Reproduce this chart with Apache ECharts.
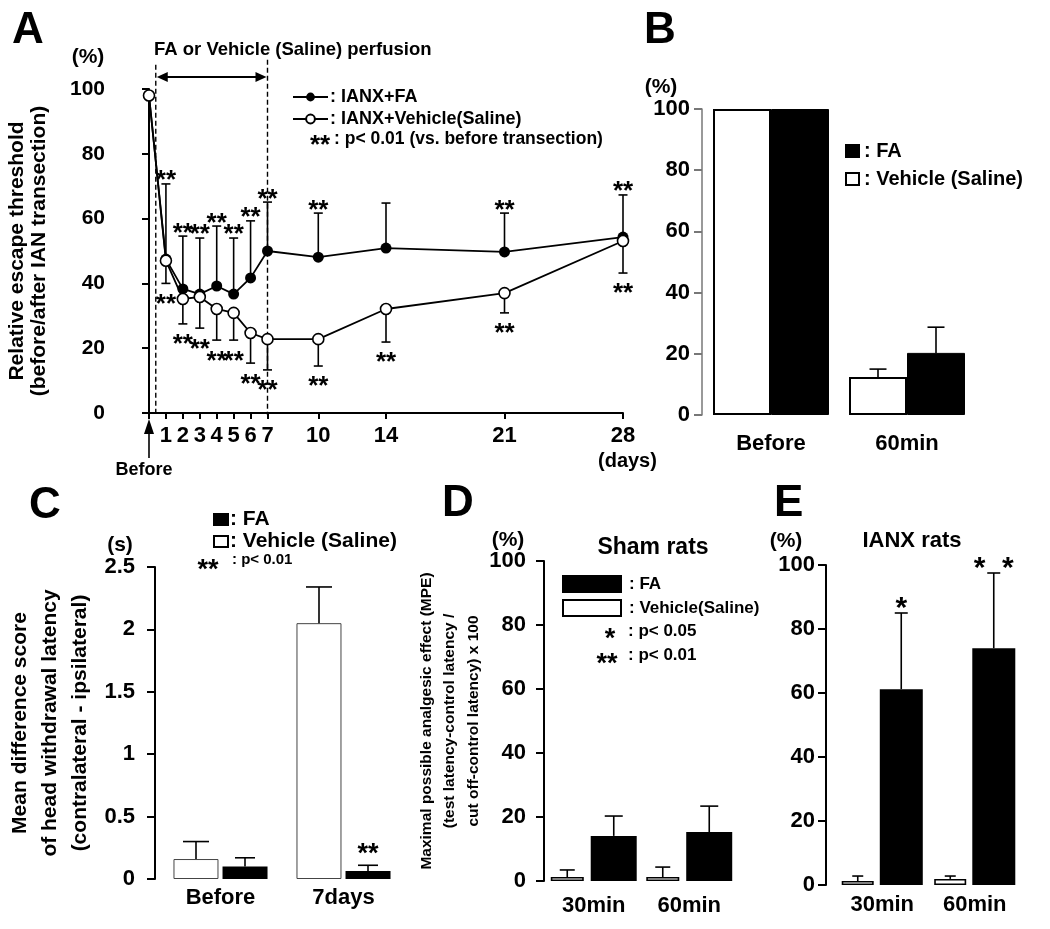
<!DOCTYPE html>
<html><head><meta charset="utf-8">
<script src="https://cdn.jsdelivr.net/npm/echarts@6/dist/echarts.min.js"></script>
<style>html,body{margin:0;padding:0;background:#fff}#c{width:1050px;height:929px}</style>
</head><body><div id="c"></div>
<script>
// ---------- Panel A data ----------
const daysA = [0, 1, 2, 3, 4, 5, 6, 7, 10, 14, 21, 28];
const dayTicksA = [0, 1, 2, 3, 4, 5, 6, 7, 10, 14, 21, 28];
const dayLabelsA = [1, 2, 3, 4, 5, 6, 7, 10, 14, 21, 28];
const faMeanA = [98, 47.5, 38.3, 36.7, 39.2, 36.7, 41.7, 50, 48.1, 50.9, 49.7, 54.3];
const faErrA = [0, 23.2, 16.3, 17.3, 18.5, 17.3, 17.6, 15.1, 13.6, 13.9, 12, 13];
const vehMeanA = [98, 47, 35.2, 35.8, 32.1, 30.9, 24.7, 22.8, 22.8, 32.1, 37, 53.1];
const vehErrA = [0, 7, 7.7, 9.6, 9.6, 8.4, 9.3, 9.5, 8.3, 10.2, 6.1, 9.9];
const faSigA = ['', '**', '**', '**', '**', '**', '**', '**', '**', '', '**', '**'];
const vehSigA = ['', '**', '**', '**', '**', '**', '**', '**', '**', '**', '**', '**'];
const perfusionWindow = [0.4, 7];

// ---------- Panel B data ----------
const catsB = ['Before', '60min'];
const vehB = [100, 12.4];
const vehErrB = [0, 2.6];
const faB = [100, 20.3];
const faErrB = [0, 8.4];

// ---------- Panel C data ----------
const catsC = ['Before', '7days'];
const vehC = [0.16, 2.05];
const vehErrC = [0.14, 0.29];
const faC = [0.1, 0.065];
const faErrC = [0.07, 0.045];
const faSigC = ['', '**'];

// ---------- Panel D data ----------
const catsD = ['30min', '60min'];
const vehD = [1.25, 1.25];
const vehErrD = [2.2, 3.1];
const faD = [14.1, 15.3];
const faErrD = [6.2, 8.1];

// ---------- Panel E data ----------
const catsE = ['30min', '60min'];
const vehE = [1.25, 1.9];
const vehErrE = [1.55, 0.9];
const faE = [61.2, 74];
const faErrE = [23.8, 23.5];
const faSigE = ['*', '*  *'];

const FF = '"Liberation Sans", Arial, Helvetica, sans-serif';

function txtStyle(text, size, align, weight) {
  return {text: text, fill: '#000', fontSize: size, fontWeight: weight || 'bold', fontFamily: FF,
    align: align || 'left', verticalAlign: 'middle', textAlign: align || 'left', textVerticalAlign: 'middle'};
}
function T(text, x, y, size, align, weight) {
  return {type: 'text', x: x, y: y, z: 50, silent: true, style: txtStyle(text, size, align, weight)};
}
function star(s, x, yc, fs) {
  return {type: 'text', x: x, y: yc + 0.28 * fs, z: 50, silent: true, style: txtStyle(s, fs, 'center')};
}

function errSeries(o) {
  return {
    type: 'custom', xAxisIndex: o.xi, yAxisIndex: o.yi, silent: true, clip: false, z: o.z || 5,
    data: o.means.map((m, i) => [o.xs[i], m, o.errs[i]]),
    renderItem: function (params, api) {
      const i = params.dataIndex;
      const x = api.value(0), m = api.value(1), e = api.value(2);
      const p0 = api.coord([x, m]);
      const p1 = api.coord([x, m + o.dir * e]);
      const cx = p0[0] + (o.off || 0);
      const ch = [];
      if (e > 0) {
        ch.push({type: 'line', shape: {x1: cx, y1: p0[1], x2: cx, y2: p1[1]}, style: {stroke: '#000', lineWidth: o.lw || 1.6}});
        ch.push({type: 'line', shape: {x1: cx - o.cap / 2, y1: p1[1], x2: cx + o.cap / 2, y2: p1[1]}, style: {stroke: '#000', lineWidth: o.lw || 1.6}});
      }
      const s = o.sig ? o.sig[i] : '';
      if (s) ch.push(star(s, cx, p1[1] - o.dir * o.sigGap, o.sigFs));
      return {type: 'group', children: ch};
    }
  };
}

const axisLblY = (size, margin) => ({fontSize: size, fontWeight: 'bold', color: '#000', fontFamily: FF, margin: margin});
const catAxis = (gi, data, margin) => ({
  gridIndex: gi, type: 'category', data: data,
  axisLine: {show: false}, axisTick: {show: false}, splitLine: {show: false},
  axisLabel: {fontSize: 22, fontWeight: 'bold', color: '#000', fontFamily: FF, margin: margin}
});
const valAxis = (gi, min, max, interval, offset, color, lblSize, lblMargin, extra) => Object.assign({
  gridIndex: gi, type: 'value', min: min, max: max, interval: interval, offset: offset,
  axisLine: {show: true, lineStyle: {color: color, width: 2}},
  axisTick: {show: true, length: 8, lineStyle: {color: color, width: 2}},
  axisLabel: axisLblY(lblSize, lblMargin),
  splitLine: {show: false}
}, extra || {});

const chart = echarts.init(document.getElementById('c'), null, {renderer: 'canvas'});

const option = {
  animation: false,
  backgroundColor: '#fff',
  textStyle: {fontFamily: FF},
  grid: [
    {left: 149, top: 89, width: 474, height: 324, outerBoundsMode: 'none'},
    {left: 703, top: 109, width: 272, height: 306, outerBoundsMode: 'none'},
    {left: 159, top: 567, width: 246, height: 312, outerBoundsMode: 'none'},
    {left: 546, top: 561, width: 191, height: 320, outerBoundsMode: 'none'},
    {left: 836, top: 565, width: 185, height: 320, outerBoundsMode: 'none'}
  ],
  xAxis: [
    {gridIndex: 0, type: 'value', min: 0, max: 28, offset: 3,
      axisLine: {show: true, lineStyle: {color: '#000', width: 2}},
      axisTick: {show: true, customValues: dayTicksA, length: 6, lineStyle: {color: '#000', width: 2}},
      axisLabel: {customValues: dayLabelsA, fontSize: 22, fontWeight: 'bold', color: '#000', fontFamily: FF, margin: 9},
      splitLine: {show: false}},
    catAxis(1, catsB, 18),
    catAxis(2, catsC, 8),
    catAxis(3, catsD, 14),
    catAxis(4, catsE, 9)
  ],
  yAxis: [
    valAxis(0, 0, 100, 20, 36, '#000', 21, 8, {
      axisTick: {show: true, length: 7, lineStyle: {color: '#000', width: 2}},
      name: 'Relative escape threshold\n(before/after IAN transection)', nameLocation: 'middle', nameRotate: 90, nameGap: 63,
      nameTextStyle: {fontSize: 21, fontWeight: 'bold', color: '#000', fontFamily: FF, lineHeight: 22}}),
    valAxis(1, 0, 100, 20, 1, '#777', 22, 12, {axisLine: {show: true, lineStyle: {color: '#777', width: 1.5}}}),
    valAxis(2, 0, 2.5, 0.5, 4, '#000', 22, 20, {
      name: 'Mean difference score\nof head withdrawal latency\n(contralateral - ipsilateral)', nameLocation: 'middle', nameRotate: 90, nameGap: 60,
      nameTextStyle: {fontSize: 21, fontWeight: 'bold', color: '#000', fontFamily: FF, lineHeight: 30}}),
    valAxis(3, 0, 100, 20, 2, '#000', 22, 18, {
      name: 'Maximal possible analgesic effect (MPE)\n(test latency-control latency /\ncut off-control latency) x 100', nameLocation: 'middle', nameRotate: 90, nameGap: 54,
      nameTextStyle: {fontSize: 15.5, fontWeight: 'bold', color: '#000', fontFamily: FF, lineHeight: 23.5}}),
    valAxis(4, 0, 100, 20, 10, '#000', 22, 11)
  ],
  legend: [
    {left: 292, top: 88, orient: 'vertical', padding: 0, itemWidth: 35, itemHeight: 11, itemGap: 4, selectedMode: false,
      data: ['IANX+FA', 'IANX+Vehicle(Saline)'], formatter: n => ': ' + n,
      textStyle: {fontSize: 18, fontWeight: 'bold', color: '#000', fontFamily: FF, padding: [0, 0, 0, -3]}},
    {left: 845, top: 141, orient: 'vertical', padding: 0, itemWidth: 13, itemHeight: 12, itemGap: 8, selectedMode: false, icon: 'rect',
      data: ['FA', 'Vehicle (Saline)'], formatter: n => ': ' + n,
      textStyle: {fontSize: 20, fontWeight: 'bold', color: '#000', fontFamily: FF}},
    {left: 213, top: 509, orient: 'vertical', padding: 0, itemWidth: 14, itemHeight: 11, itemGap: 1, selectedMode: false, icon: 'rect',
      data: ['FA', 'Vehicle (Saline)'], formatter: n => ': ' + n,
      textStyle: {fontSize: 21, fontWeight: 'bold', color: '#000', fontFamily: FF, padding: [0, 0, 0, -3]}},
    {left: 562, top: 575, orient: 'vertical', padding: 0, itemWidth: 58, itemHeight: 16, itemGap: 6, selectedMode: false, icon: 'rect',
      data: ['FA', 'Vehicle(Saline)'], formatter: n => ': ' + n,
      textStyle: {fontSize: 17, fontWeight: 'bold', color: '#000', fontFamily: FF, padding: [0, 0, 0, 3]}}
  ],
  series: [
    // Panel A annotations (perfusion window, arrows)
    {type: 'custom', xAxisIndex: 0, yAxisIndex: 0, silent: true, clip: false, z: 1, data: [[0, 0]],
      renderItem: function (params, api) {
        const s0 = api.coord([perfusionWindow[0], 0]), s1 = api.coord([perfusionWindow[1], 0]);
        const top0 = api.coord([perfusionWindow[0], 107.5])[1], top1 = api.coord([perfusionWindow[1], 109])[1];
        const ay = api.coord([0, 103.7])[1];
        const b = api.coord([0, 0]);
        const dash = {stroke: '#000', lineWidth: 1.4, lineDash: [5, 3]};
        return {type: 'group', children: [
          {type: 'line', shape: {x1: s0[0], y1: top0, x2: s0[0], y2: s0[1] + 2}, style: dash},
          {type: 'line', shape: {x1: s1[0], y1: top1, x2: s1[0], y2: s1[1] + 2}, style: dash},
          {type: 'line', shape: {x1: s0[0] + 4, y1: ay, x2: s1[0] - 4, y2: ay}, style: {stroke: '#000', lineWidth: 1.8}},
          {type: 'polygon', shape: {points: [[s0[0] + 1, ay], [s0[0] + 12, ay - 5], [s0[0] + 12, ay + 5]]}, style: {fill: '#000'}},
          {type: 'polygon', shape: {points: [[s1[0] - 1, ay], [s1[0] - 12, ay - 5], [s1[0] - 12, ay + 5]]}, style: {fill: '#000'}},
          {type: 'line', shape: {x1: b[0], y1: b[1] + 18, x2: b[0], y2: b[1] + 45}, style: {stroke: '#000', lineWidth: 1.6}},
          {type: 'polygon', shape: {points: [[b[0], b[1] + 6], [b[0] - 5, b[1] + 21], [b[0] + 5, b[1] + 21]]}, style: {fill: '#000'}}
        ]};
      }},
    errSeries({xi: 0, yi: 0, xs: daysA, means: faMeanA, errs: faErrA, dir: 1, cap: 9, sig: faSigA, sigGap: 10, sigFs: 26, z: 2}),
    errSeries({xi: 0, yi: 0, xs: daysA, means: vehMeanA, errs: vehErrA, dir: -1, cap: 9, sig: vehSigA, sigGap: 14, sigFs: 26, z: 2}),
    {type: 'line', name: 'IANX+FA', xAxisIndex: 0, yAxisIndex: 0, z: 3,
      data: daysA.map((d, i) => [d, faMeanA[i]]),
      symbol: 'circle', symbolSize: 11, itemStyle: {color: '#000'}, lineStyle: {color: '#000', width: 1.8}},
    {type: 'line', name: 'IANX+Vehicle(Saline)', xAxisIndex: 0, yAxisIndex: 0, z: 4,
      data: daysA.map((d, i) => [d, vehMeanA[i]]),
      symbol: 'circle', symbolSize: 11, itemStyle: {color: '#fff', borderColor: '#000', borderWidth: 1.6}, lineStyle: {color: '#000', width: 1.8}},

    // Panel B
    {type: 'bar', name: 'Vehicle (Saline)', xAxisIndex: 1, yAxisIndex: 1, data: vehB, barWidth: 58, barGap: '0%',
      itemStyle: {color: '#fff', borderColor: '#000', borderWidth: 2}},
    {type: 'bar', name: 'FA', xAxisIndex: 1, yAxisIndex: 1, data: faB, barWidth: 58, barGap: '0%',
      itemStyle: {color: '#000', borderColor: '#000', borderWidth: 1}},
    errSeries({xi: 1, yi: 1, xs: [0, 1], means: vehB, errs: vehErrB, dir: 1, off: -29, cap: 17}),
    errSeries({xi: 1, yi: 1, xs: [0, 1], means: faB, errs: faErrB, dir: 1, off: 29, cap: 17}),

    // Panel C
    {type: 'bar', name: 'Vehicle (Saline)', xAxisIndex: 2, yAxisIndex: 2, data: vehC, barWidth: 45, barGap: '9%',
      itemStyle: {color: '#fff', borderColor: '#444', borderWidth: 1}},
    {type: 'bar', name: 'FA', xAxisIndex: 2, yAxisIndex: 2, data: faC, barWidth: 45, barGap: '9%',
      itemStyle: {color: '#000'}},
    errSeries({xi: 2, yi: 2, xs: [0, 1], means: vehC, errs: vehErrC, dir: 1, off: -24.5, cap: 26}),
    errSeries({xi: 2, yi: 2, xs: [0, 1], means: faC, errs: faErrC, dir: 1, off: 24.5, cap: 20, sig: faSigC, sigGap: 18, sigFs: 27}),

    // Panel D
    {type: 'bar', name: 'Vehicle(Saline)', xAxisIndex: 3, yAxisIndex: 3, data: vehD, barWidth: 33, barGap: '21%',
      itemStyle: {color: '#fff', borderColor: '#000', borderWidth: 1.6}},
    {type: 'bar', name: 'FA', xAxisIndex: 3, yAxisIndex: 3, data: faD, barWidth: 46, barGap: '21%',
      itemStyle: {color: '#000'}},
    errSeries({xi: 3, yi: 3, xs: [0, 1], means: vehD, errs: vehErrD, dir: 1, off: -26.5, cap: 15}),
    errSeries({xi: 3, yi: 3, xs: [0, 1], means: faD, errs: faErrD, dir: 1, off: 20, cap: 18}),

    // Panel E
    {type: 'bar', name: 'Vehicle(Saline)', xAxisIndex: 4, yAxisIndex: 4, data: vehE, barWidth: 32, barGap: '19%',
      itemStyle: {color: '#fff', borderColor: '#000', borderWidth: 1.6}},
    {type: 'bar', name: 'FA', xAxisIndex: 4, yAxisIndex: 4, data: faE, barWidth: 43, barGap: '19%',
      itemStyle: {color: '#000'}},
    errSeries({xi: 4, yi: 4, xs: [0, 1], means: vehE, errs: vehErrE, dir: 1, off: -24.5, cap: 11}),
    errSeries({xi: 4, yi: 4, xs: [0, 1], means: faE, errs: faErrE, dir: 1, off: 19, cap: 13, sig: faSigE, sigGap: 13, sigFs: 30})
  ],
  graphic: [
    T('A', 12, 31, 44), T('B', 644, 31, 44), T('C', 29, 506, 44), T('D', 442, 504, 44), T('E', 774, 504, 44),
    // Panel A texts
    T('(%)', 88, 57, 21, 'center'),
    T('FA or Vehicle (Saline) perfusion', 154, 50, 18.5),
    star('**', 320, 139, 26), T(': p< 0.01 (vs. before transection)', 334, 139, 17.5),
    T('Before', 144, 470, 18, 'center'),
    T('(days)', 598, 461, 20),
    // Panel B
    T('(%)', 661, 87, 21, 'center'),
    // Panel C
    T('(s)', 120, 545, 21, 'center'),
    star('**', 208, 563, 27), T(': p< 0.01', 232, 560, 15),
    // Panel D
    T('(%)', 508, 540, 21, 'center'),
    T('Sham rats', 653, 548, 23, 'center'),
    star('*', 610, 632, 27), T(': p< 0.05', 628, 631, 17),
    star('**', 607, 657, 27), T(': p< 0.01', 628, 655, 17),
    // Panel E
    T('(%)', 786, 541, 21, 'center'),
    T('IANX rats', 912, 541, 22, 'center')
  ]
};
chart.setOption(option);
</script>
</body></html>
